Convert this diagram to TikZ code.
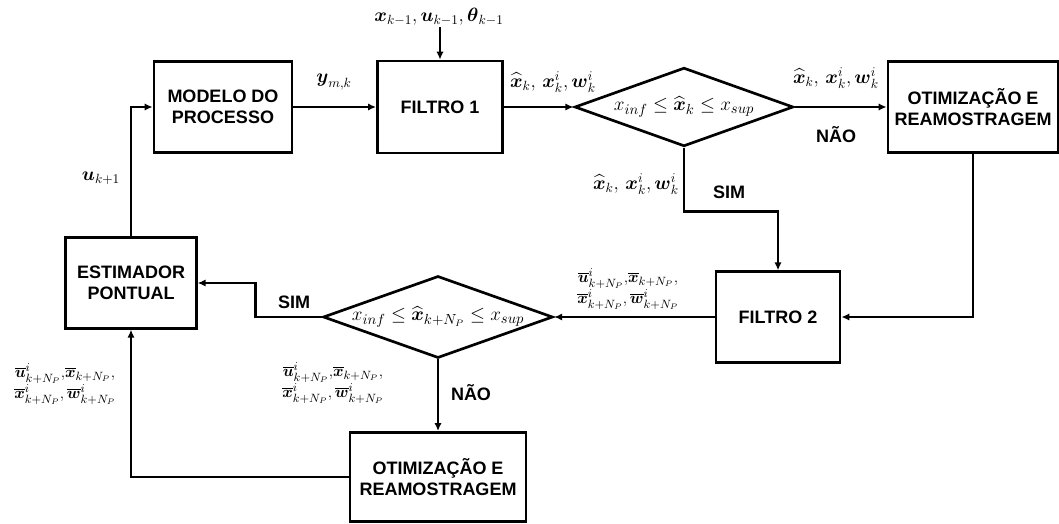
\documentclass[tikz,border=0pt]{standalone}
\usepackage{amsmath}
\usepackage{fontspec}
\setsansfont{Liberation Sans}
\usetikzlibrary{arrows.meta, shapes.geometric}

\begin{document}
\begin{tikzpicture}[x=0.75pt, y=-0.75pt, line width=2pt,
    >={Latex[length=6pt, width=5.5pt]},
    bloco/.style={draw, rectangle, align=center, inner sep=2pt,
        font=\sffamily\bfseries\fontsize{13.5pt}{15.5pt}\selectfont},
    decisao/.style={draw, diamond, aspect=2.8, inner sep=0pt,
        minimum width=164pt, minimum height=59pt, font=\fontsize{15pt}{17pt}\selectfont},
    rotulo/.style={align=center, inner sep=0pt, font=\fontsize{14pt}{16pt}\selectfont},
    rotulob/.style={align=center, inner sep=0pt, font=\fontsize{13pt}{15pt}\selectfont},
    resposta/.style={inner sep=0pt, font=\sffamily\bfseries\fontsize{13.5pt}{15.5pt}\selectfont}]

\useasboundingbox (0,0) rectangle (1059,524);

% === Blocos ===
\node[bloco, minimum width=103.5pt, minimum height=68pt] (modelo) at (223,107) {MODELO DO\\PROCESSO};
\node[bloco, minimum width=94pt, minimum height=69pt] (filtro1) at (440,107) {FILTRO 1};
\node[decisao] (dec1) at (684,107) {$x_{inf} \leq \widehat{\boldsymbol{x}}_k \leq x_{sup}$};
\node[bloco, minimum width=127.5pt, minimum height=68pt] (otim1) at (973,107) {OTIMIZAÇÃO E\\REAMOSTRAGEM};
\node[bloco, minimum width=93pt, minimum height=68pt] (filtro2) at (778,317) {FILTRO 2};
\node[decisao, minimum width=166pt] (dec2) at (438,317) {$x_{inf} \leq \widehat{\boldsymbol{x}}_{k+N_P} \leq x_{sup}$};
\node[bloco, minimum width=98pt, minimum height=68pt] (estim) at (131,283) {ESTIMADOR\\PONTUAL};
\node[bloco, minimum width=132pt, minimum height=67pt] (otim2) at (438,477) {OTIMIZAÇÃO E\\REAMOSTRAGEM};

% Entrada do filtro 1
\coordinate (entrada) at (440,27);
\node[rotulo] (ent) at (439,17) {$\boldsymbol{x}_{k-1}, \boldsymbol{u}_{k-1}, \boldsymbol{\theta}_{k-1}$};

% === Ligacoes ===
\draw[->] (estim.north) |- (modelo.west);
\draw[->] (modelo.east) -- (filtro1.west);
\draw[->] (entrada) -- (filtro1.north);
\draw[->] (filtro1.east) -- (dec1.west);
\draw[->] (dec1.east) -- (otim1.west);
\draw[->] (dec1.south) -- ++(0,64) -| (filtro2.north);
\draw[->] (otim1.south) |- (filtro2.east);
\draw[->] (filtro2.west) -- (dec2.east);
\draw[->] (dec2.west) -- ++(-66,0) |- (estim.east);
\draw[->] (dec2.south) -- (otim2.north);
\draw[->] (otim2.west) -| (estim.south);

% === Rotulos ===
\node[rotulo] (ymk) at (334,82) {$\boldsymbol{y}_{m,k}$};
\node[rotulo] (uk) at (101,178) {$\boldsymbol{u}_{k+1}$};
\node[rotulo] (r1) at (553,82) {$\widehat{\boldsymbol{x}}_k,\, \boldsymbol{x}_k^i, \boldsymbol{w}_k^i$};
\node[rotulo] (r2) at (836,78) {$\widehat{\boldsymbol{x}}_k,\, \boldsymbol{x}_k^i, \boldsymbol{w}_k^i$};
\node[rotulo] (r3) at (636,184) {$\widehat{\boldsymbol{x}}_k,\, \boldsymbol{x}_k^i, \boldsymbol{w}_k^i$};
\node[resposta] (nao1) at (836,135) {NÃO};
\node[resposta] (sim1) at (729,192) {SIM};
\node[rotulob] (r4) at (628,289) {$\overline{\boldsymbol{u}}^i_{k+N_P}{,}\overline{\boldsymbol{x}}_{k+N_P},$\\$\overline{\boldsymbol{x}}^i_{k+N_P}, \overline{\boldsymbol{w}}^i_{k+N_P}$};
\node[resposta] (sim2) at (294,302) {SIM};
\node[rotulob] (r5) at (333,383) {$\overline{\boldsymbol{u}}^i_{k+N_P}{,}\overline{\boldsymbol{x}}_{k+N_P},$\\$\overline{\boldsymbol{x}}^i_{k+N_P}, \overline{\boldsymbol{w}}^i_{k+N_P}$};
\node[resposta] (nao2) at (471,393) {NÃO};
\node[rotulob] (r6) at (65,384) {$\overline{\boldsymbol{u}}^i_{k+N_P}{,}\overline{\boldsymbol{x}}_{k+N_P},$\\$\overline{\boldsymbol{x}}^i_{k+N_P}, \overline{\boldsymbol{w}}^i_{k+N_P}$};

\end{tikzpicture}
\end{document}
